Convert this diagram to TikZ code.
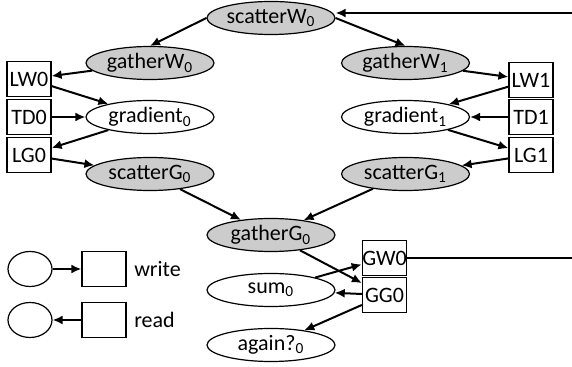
\documentclass[tikz,border=0pt]{standalone}
\usepackage{fontspec}
\setmainfont{Carlito}
\usetikzlibrary{shapes.geometric, positioning, arrows.meta}

\begin{document}
\begin{tikzpicture}[>={Latex[length=5pt,width=4.5pt]}, node distance=20pt, on grid, line width=1pt,
    font=\fontsize{11pt}{13pt}\selectfont,
    task/.style={ellipse, draw, line width=0.6pt, minimum width=64pt, minimum height=16.5pt, inner xsep=-4pt, inner ysep=-2pt},
    shared/.style={task, fill=gray!40},
    blob/.style={task, minimum width=22pt, minimum height=17.5pt},
    buf/.style={rectangle, draw, line width=0.6pt, minimum width=22pt, minimum height=17.5pt, inner sep=0pt}]
    \useasboundingbox (0,0) rectangle (286pt,-183.5pt);

    \node[shared] (sW) at (135.5pt,-9pt) {scatterW\textsubscript{0}};
    \node[shared] (gW0) [below left=22.5pt and 60.5pt of sW] {gatherW\textsubscript{0}};
    \node[shared] (gW1) [below right=22.5pt and 67.25pt of sW] {gatherW\textsubscript{1}};
    \node[task] (gr0) [below=27pt of gW0] {gradient\textsubscript{0}};
    \node[task] (gr1) [below=27pt of gW1] {gradient\textsubscript{1}};
    \node[shared] (sG0) [below=28.5pt of gr0] {scatterG\textsubscript{0}};
    \node[shared] (sG1) [below=28.5pt of gr1] {scatterG\textsubscript{1}};
    \node[buf] (TD0) [left=60.5pt of gr0] {TD0};
    \node[buf] (LW0) [above=19pt of TD0] {LW0};
    \node[buf] (LG0) [below=19pt of TD0] {LG0};
    \node[buf] (TD1) [right=62.75pt of gr1] {TD1};
    \node[buf] (LW1) [above=18.5pt of TD1] {LW1};
    \node[buf] (LG1) [below=19pt of TD1] {LG1};
    \node[shared] (gG0) [below=108.5pt of sW] {gatherG\textsubscript{0}};
    \node[task] (sum0) [below=27.5pt of gG0] {sum\textsubscript{0}};
    \node[task] (again0) [below=27.5pt of sum0] {again?\textsubscript{0}};
    \node[buf] (GW0) [below right=11.5pt and 56.75pt of gG0] {GW0};
    \node[buf] (GG0) [below=18.5pt of GW0] {GG0};

    % legend
    \node[blob] (lw) at (15pt,-134.5pt) {};
    \node[buf] (lwb) [right=37pt of lw] {};
    \node[anchor=west] (lwt) at (lwb.east) {write};
    \node[blob] (lr) [below=25.5pt of lw] {};
    \node[buf] (lrb) [right=37pt of lr] {};
    \node[anchor=west] (lrt) at (lrb.east) {read};

    % loop back from the right
    \coordinate (inW) at (286pt,-6.5pt);
    \coordinate (outG) at (286pt,-129pt);

    \path[->]
    (inW) edge (sW.east |- inW)
    (sW.west) edge (gW0.north)
    (sW.east) edge (gW1.north)
    (gW0) edge (LW0)
    (LW0) edge (gr0)
    (TD0) edge (gr0)
    (gr0) edge (LG0)
    (LG0) edge (sG0)
    (gW1) edge (LW1)
    (LW1) edge (gr1)
    (TD1) edge (gr1)
    (gr1) edge (LG1)
    (LG1) edge (sG1)
    (sG0) edge (gG0)
    (sG1) edge (gG0)
    (gG0) edge (GG0)
    (sum0) edge (GW0)
    (GG0) edge (sum0)
    (GG0) edge (again0)
    (lw) edge (lwb)
    (lrb) edge (lr);
    \draw (GW0) -- (outG);
\end{tikzpicture}
\end{document}
